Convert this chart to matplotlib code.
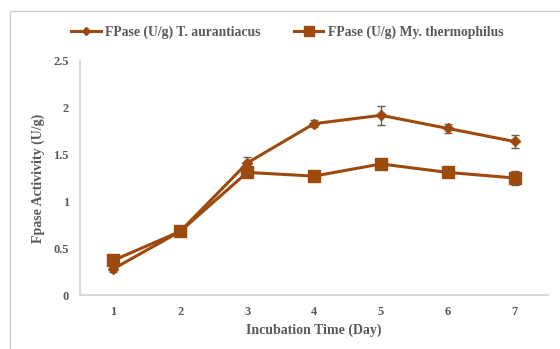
import matplotlib.pyplot as plt
from matplotlib.lines import Line2D

days = [1, 2, 3, 4, 5, 6, 7]
t_aur = [0.28, 0.68, 1.41, 1.83, 1.92, 1.78, 1.64]
t_aur_err = [0.03, 0.05, 0.06, 0.04, 0.10, 0.05, 0.07]
my_th = [0.37, 0.68, 1.31, 1.27, 1.40, 1.31, 1.25]
my_th_err = [0.02, 0.04, 0.02, 0.03, 0.02, 0.02, 0.07]
labels = ['FPase (U/g) T. aurantiacus', 'FPase (U/g) My. thermophilus']

color = '#9C4A0E'
gray = '#595959'
plt.rcParams['font.family'] = ['Liberation Serif', 'DejaVu Serif']
plt.rcParams['font.weight'] = 'bold'

fig = plt.figure(figsize=(5.6, 3.49), dpi=100)
# outer chart frame (only top and left edges fall inside the image)
fig.add_artist(Line2D([9.5 / 560, 9.5 / 560, 1], [0, 1 - 10.5 / 349, 1 - 10.5 / 349],
                      transform=fig.transFigure, color='#CFCFCF', linewidth=1))
ax = fig.add_axes([80 / 560, 1 - 295 / 349, (548 - 80) / 560, (295 - 61) / 349])

ax.errorbar(days, t_aur, yerr=t_aur_err, color=color, marker='D', markersize=5, linewidth=2.2,
            ecolor='#606060', elinewidth=1, capsize=3, zorder=3)
ax.errorbar(days, my_th, yerr=my_th_err, color=color, marker='s', markersize=8, linewidth=2.2,
            ecolor='#606060', elinewidth=1, capsize=3, zorder=3)

ax.set_xlim(0.5, 7.5)
ax.set_ylim(0, 2.5)
ax.set_xticks(days)
ax.set_yticks([0, 0.5, 1, 1.5, 2, 2.5])
ax.set_yticklabels(['0', '0.5', '1', '1.5', '2', '2.5'])
ax.tick_params(length=0, labelsize=9, colors=gray, pad=8)
for s in ['top', 'right']:
    ax.spines[s].set_visible(False)
for s in ['left', 'bottom']:
    ax.spines[s].set_color('#D9D9D9')
    ax.spines[s].set_linewidth(1.5)

ax.set_xlabel('Incubation Time (Day)', fontsize=10, color=gray, fontweight='bold', labelpad=4)
ax.set_ylabel('Fpase Activivity (U/g)', fontsize=10, color=gray, fontweight='bold', labelpad=6)

handles = [Line2D([], [], color=color, marker='D', markersize=4, linewidth=2.2),
           Line2D([], [], color=color, marker='s', markersize=7, linewidth=2.2)]
leg = fig.legend(handles, labels, loc='center', bbox_to_anchor=(0.513, 1 - 32 / 349), ncol=2,
                 frameon=False, fontsize=9.8, handlelength=2.2, columnspacing=2.4, handletextpad=0.3)
for t in leg.get_texts():
    t.set_color(gray)
    t.set_fontweight('bold')

fig.savefig('out.png', dpi=100)
